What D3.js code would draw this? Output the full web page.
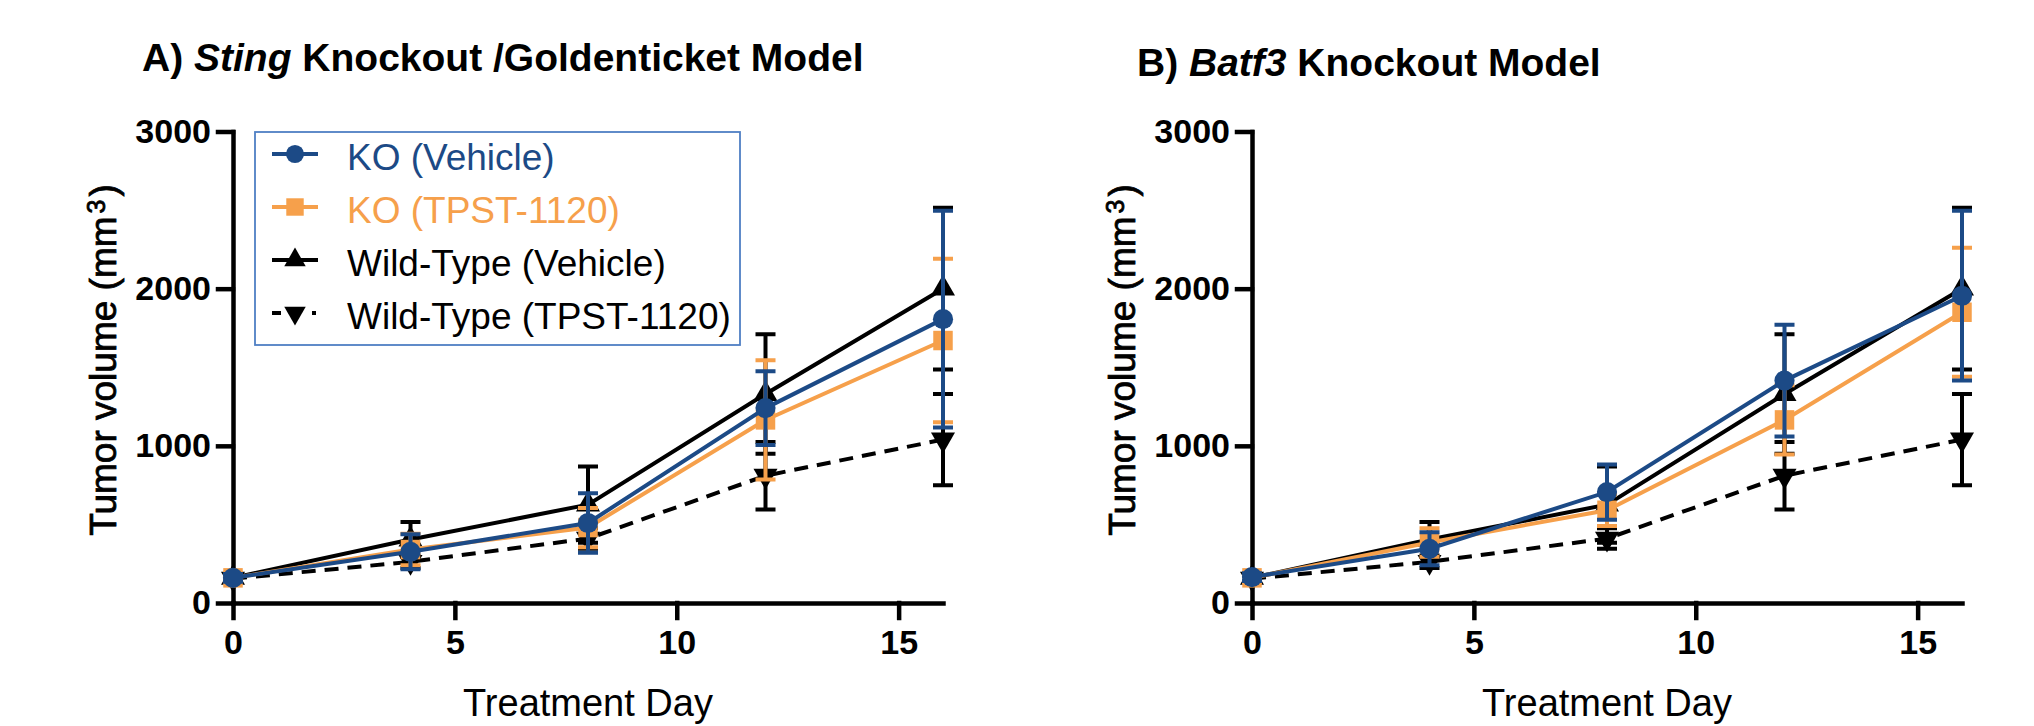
<!DOCTYPE html>
<html>
<head>
<meta charset="utf-8">
<script src="https://cdn.jsdelivr.net/npm/d3@7"></script>
<style>
  body { margin: 0; background: #fff; }
  svg { display: block; font-family: "Liberation Sans", Arial, sans-serif; }
  text { white-space: pre; }
</style>
</head>
<body>
<svg id="chart" width="2034" height="726"></svg>
<script>
// días de tratamiento y ticks
const days = [0, 4, 8, 12, 16];
const xTicks = [0, 5, 10, 15];
const yTicks = [0, 1000, 2000, 3000];

const seriesNames = ["KO (Vehicle)", "KO (TPST-1120)", "Wild-Type (Vehicle)", "Wild-Type (TPST-1120)"];

// A) Sting knockout / Goldenticket
const stingKoVehicle    = [160, 326, 509, 1240, 1806];
const stingKoVehicleErr = [25, 112, 190, 235, 690];
const stingKoTpst       = [160, 340, 480, 1165, 1670];
const stingKoTpstErr    = [30, 100, 125, 380, 520];

// B) Batf3 knockout
const batf3KoVehicle    = [165, 345, 706, 1415, 1955];
const batf3KoVehicleErr = [25, 105, 176, 355, 540];
const batf3KoTpst       = [160, 385, 590, 1165, 1850];
const batf3KoTpstErr    = [30, 90, 100, 220, 410];

// wild-type (mismos grupos en los dos paneles)
const wtVehicle    = [160, 404, 626, 1330, 2000];
const wtVehicleErr = [20, 112, 243, 380, 515];
const wtTpst       = [155, 262, 410, 810, 1040];
const wtTpstErr    = [20, 40, 65, 215, 290];

const BLUE = "#1c4a86";
const ORANGE = "#f6a04b";
const BLACK = "#000";

const svg = d3.select("#chart");

function seriesFor(koV, koVErr, koT, koTErr) {
    return [
        { name: seriesNames[0], values: koV, err: koVErr, color: BLUE, symbol: d3.symbolCircle, size: 320, rotate: 0, dash: null },
        { name: seriesNames[1], values: koT, err: koTErr, color: ORANGE, symbol: d3.symbolSquare, size: 380, rotate: 0, dash: null },
        { name: seriesNames[2], values: wtVehicle, err: wtVehicleErr, color: BLACK, symbol: d3.symbolTriangle, size: 250, rotate: 0, dash: null },
        { name: seriesNames[3], values: wtTpst, err: wtTpstErr, color: BLACK, symbol: d3.symbolTriangle, size: 250, rotate: 180, dash: "14,9" }
    ];
}

const panels = [
    { left: 233, right: 943, title: ["A) ", "Sting", " Knockout /Goldenticket Model"], titleX: 142, titleY: 71,
      series: seriesFor(stingKoVehicle, stingKoVehicleErr, stingKoTpst, stingKoTpstErr), legend: true },
    { left: 1252, right: 1962, title: ["B) ", "Batf3", " Knockout Model"], titleX: 1137, titleY: 76,
      series: seriesFor(batf3KoVehicle, batf3KoVehicleErr, batf3KoTpst, batf3KoTpstErr), legend: false }
];

const plotTop = 131.5, plotBottom = 603;

function drawPanel(p) {
    const g = svg.append("g");
    const x = d3.scaleLinear().domain([0, 16]).range([p.left, p.right]);
    const y = d3.scaleLinear().domain([0, 3000]).range([plotBottom, plotTop]);

    // título
    const t = g.append("text")
        .attr("x", p.titleX).attr("y", p.titleY)
        .style("font-size", "39px").style("font-weight", "bold");
    t.append("tspan").text(p.title[0]);
    t.append("tspan").style("font-style", "italic").text(p.title[1]);
    t.append("tspan").text(p.title[2]);

    // ejes
    const yAxis = g.append("g")
        .attr("transform", `translate(${p.left},0)`)
        .call(d3.axisLeft(y).tickValues(yTicks).tickFormat(d3.format("d"))
            .tickSize(15).tickSizeOuter(0).tickPadding(7));
    const xAxis = g.append("g")
        .attr("transform", `translate(0,${plotBottom})`)
        .call(d3.axisBottom(x).tickValues(xTicks).tickFormat(d3.format("d"))
            .tickSize(15).tickSizeOuter(0).tickPadding(12));

    [yAxis, xAxis].forEach(a => {
        a.selectAll("path, line").attr("stroke", "#000").attr("stroke-width", 4.5).attr("stroke-linecap", "square");
        a.selectAll("text").attr("fill", "#000")
            .style("font-size", "34px").style("font-weight", "bold")
            .style("font-family", "'Liberation Sans', Arial, sans-serif");
    });

    // etiquetas de ejes
    g.append("text")
        .attr("x", (p.left + p.right) / 2).attr("y", 716)
        .attr("text-anchor", "middle")
        .style("font-size", "38px")
        .text("Treatment Day");

    const yl = g.append("text")
        .attr("transform", `translate(${p.left - 117},360) rotate(-90)`)
        .attr("text-anchor", "middle")
        .attr("stroke", "#000")
        .attr("stroke-width", 0.8)
        .style("font-size", "37px");
    yl.append("tspan").text("Tumor volume (mm");
    yl.append("tspan").attr("dx", 3).attr("dy", "-0.45em").style("font-size", "25px").text("3");
    yl.append("tspan").attr("dx", 3).attr("dy", "0.3em").text(")");

    // series (de abajo hacia arriba)
    const line = d3.line().x(d => x(d.day)).y(d => y(d.v));
    p.series.slice().reverse().forEach(s => {
        const pts = days.map((d, i) => ({ day: d, v: s.values[i], e: s.err[i] }));
        const sg = g.append("g");

        sg.append("path")
            .datum(pts)
            .attr("d", line)
            .attr("fill", "none")
            .attr("stroke", s.color)
            .attr("stroke-width", 4)
            .attr("stroke-dasharray", s.dash);

        sg.selectAll(".err")
            .data(pts)
            .enter().append("path")
            .attr("class", "err")
            .attr("d", d => {
                const cx = x(d.day), y1 = y(d.v + d.e), y0 = y(d.v - d.e);
                return `M${cx},${y0}V${y1}M${cx - 10},${y1}H${cx + 10}M${cx - 10},${y0}H${cx + 10}`;
            })
            .attr("fill", "none")
            .attr("stroke", s.color)
            .attr("stroke-width", 4);

        sg.selectAll(".mk")
            .data(pts)
            .enter().append("path")
            .attr("class", "mk")
            .attr("d", d3.symbol().type(s.symbol).size(s.size))
            .attr("transform", d => `translate(${x(d.day)},${y(d.v)}) rotate(${s.rotate})`)
            .attr("fill", s.color);
    });

    if (p.legend) drawLegend(g, p.series);
}

function drawLegend(g, series) {
    const lg = g.append("g");
    lg.append("rect")
        .attr("x", 255).attr("y", 132)
        .attr("width", 485).attr("height", 213)
        .attr("fill", "#fff")
        .attr("stroke", "#4f7fc4")
        .attr("stroke-width", 1.8);

    series.forEach((s, i) => {
        const cy = 154 + i * 53;
        lg.append("line")
            .attr("x1", 272).attr("x2", 318)
            .attr("y1", cy).attr("y2", cy)
            .attr("stroke", s.color)
            .attr("stroke-width", 4)
            .attr("stroke-dasharray", s.dash ? "9,31,4" : null);
        lg.append("path")
            .attr("d", d3.symbol().type(s.symbol).size(s.size * 0.8))
            .attr("transform", `translate(295,${cy}) rotate(${s.rotate})`)
            .attr("fill", s.color);
        lg.append("text")
            .attr("x", 347).attr("y", cy + 16)
            .attr("fill", s.color === BLACK ? "#000" : s.color)
            .style("font-size", "37px")
            .text(s.name);
    });
}

panels.forEach(drawPanel);
</script>
</body>
</html>
